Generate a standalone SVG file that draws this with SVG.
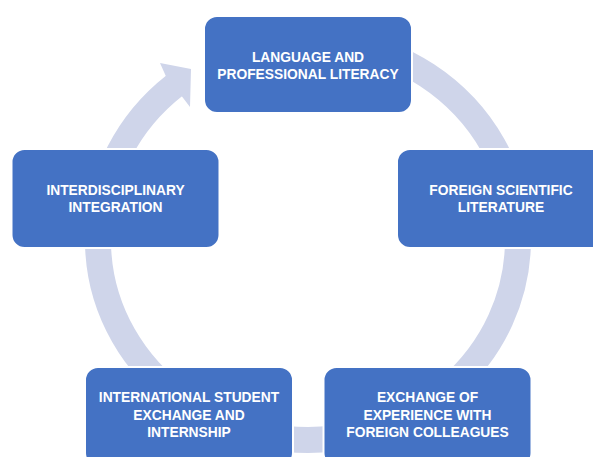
<svg xmlns="http://www.w3.org/2000/svg" width="593" height="457" viewBox="0 0 593 457">
  <style>
    .node { fill: #4472C4; stroke: #FFFFFF; stroke-width: 2; }
    .lbl { fill: #FFFFFF; font-family: "Liberation Sans", Arial, sans-serif; font-weight: bold; font-size: 13.8px; text-anchor: middle; }
    .arc { fill: none; stroke: #CFD5EA; stroke-width: 26; stroke-linecap: butt; }
    .head { fill: #CFD5EA; }
  </style>
  <rect width="593" height="457" fill="#FFFFFF"/>
  <g id="connectors">
    <path class="arc" d="M 344.47 43.04 A 210 200 0 1 1 174.6 85.5"/>
    <polygon class="head" points="165.8,75.9 160,63 191,69 190,107 181.8,96.3"/>
  </g>
  <g id="node-language">
    <rect class="node" x="204" y="16" width="208" height="97" rx="13"/>
    <text class="lbl" x="308" y="61.5">LANGUAGE AND</text>
    <text class="lbl" x="308" y="78.5">PROFESSIONAL LITERACY</text>
  </g>
  <g id="node-foreign-literature">
    <rect class="node" x="397" y="149" width="208" height="99" rx="13"/>
    <text class="lbl" x="501" y="194.5">FOREIGN SCIENTIFIC</text>
    <text class="lbl" x="501" y="211.5">LITERATURE</text>
  </g>
  <g id="node-exchange-experience">
    <rect class="node" x="323.5" y="367" width="208" height="99" rx="13"/>
    <text class="lbl" x="427.5" y="402">EXCHANGE OF</text>
    <text class="lbl" x="427.5" y="419.5">EXPERIENCE WITH</text>
    <text class="lbl" x="427.5" y="437">FOREIGN COLLEAGUES</text>
  </g>
  <g id="node-student-exchange">
    <rect class="node" x="85" y="367" width="208" height="99" rx="13"/>
    <text class="lbl" x="189" y="402">INTERNATIONAL STUDENT</text>
    <text class="lbl" x="189" y="419.5">EXCHANGE AND</text>
    <text class="lbl" x="189" y="437">INTERNSHIP</text>
  </g>
  <g id="node-interdisciplinary">
    <rect class="node" x="11.5" y="149" width="208" height="99" rx="13"/>
    <text class="lbl" x="115.5" y="195">INTERDISCIPLINARY</text>
    <text class="lbl" x="115.5" y="211.5">INTEGRATION</text>
  </g>
</svg>
